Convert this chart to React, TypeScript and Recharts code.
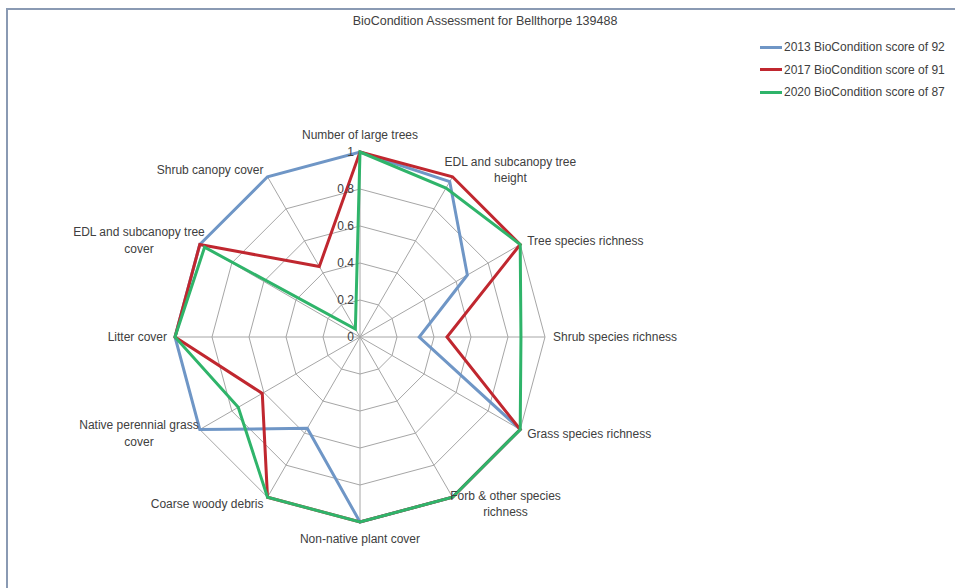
import { RadarChart, Radar, PolarGrid, PolarAngleAxis, PolarRadiusAxis, Legend } from "recharts"

const categories = [
  "Number of large trees",
  "EDL and subcanopy tree height",
  "Tree species richness",
  "Shrub species richness",
  "Grass species richness",
  "Forb & other species richness",
  "Non-native plant cover",
  "Coarse woody debris",
  "Native perennial grass cover",
  "Litter cover",
  "EDL and subcanopy tree cover",
  "Shrub canopy cover",
]

const scores2013 = [1, 0.97, 0.67, 0.32, 1, 1, 1, 0.57, 1, 1, 1, 1]
const scores2017 = [1, 1, 1, 0.47, 1, 1, 1, 1, 0.61, 1, 1, 0.44]
const scores2020 = [1, 0.93, 1, 0.87, 1, 1, 1, 1, 0.76, 1, 0.97, 0.05]

const radiusTicks = [0, 0.2, 0.4, 0.6, 0.8, 1]

const seriesNames = ["2013 BioCondition score of 92", "2017 BioCondition score of 91", "2020 BioCondition score of 87"]
const seriesColors = ["#6f96c6", "#c0272f", "#2fb46a"]

const data = categories.map((c, i) => ({
  category: c,
  s2013: scores2013[i],
  s2017: scores2017[i],
  s2020: scores2020[i],
}))

const CX = 360
const CY = 337
const R = 185
const FONT = "'Liberation Sans', Arial, sans-serif"

// 22 chars per line is about what the excel label boxes hold
function wrapLabel(text: string, max = 22) {
  const words = text.split(" ")
  const lines: string[] = []
  let cur = ""
  for (const w of words) {
    const next = cur ? cur + " " + w : w
    if (next.length > max && cur) {
      lines.push(cur)
      cur = w
    } else {
      cur = next
    }
  }
  if (cur) lines.push(cur)
  return lines
}

const AngleTick = (props: any) => {
  const { x, y, payload } = props
  const dx = x - CX
  const dy = y - CY
  const len = Math.hypot(dx, dy) || 1
  const ux = dx / len
  const uy = dy / len
  const ax = CX + ux * (R + 8)
  let ay = CY + uy * (R + 8)
  const lines = wrapLabel(payload.value)
  const lineH = 16.5
  const vertical = Math.abs(ux) < 0.01
  if (vertical) ay += uy * 9
  const blockTop = ay - ((lines.length - 1) * lineH) / 2
  let anchor: "start" | "end" | "middle" = vertical ? "middle" : ux > 0 ? "start" : "end"
  let tx = ax
  if (lines.length > 1 && !vertical) {
    const w = Math.max(...lines.map((l) => l.length)) * 4.9
    tx = ux > 0 ? ax + w / 2 : ax - w / 2
    anchor = "middle"
  }
  return (
    <text x={tx} y={blockTop} textAnchor={anchor} fill="#404040" fontSize={12} fontFamily={FONT} dominantBaseline="central">
      {lines.map((l, i) => (
        <tspan key={i} x={tx} dy={i === 0 ? 0 : lineH}>
          {l}
        </tspan>
      ))}
    </text>
  )
}

const RadiusTick = (props: any) => {
  const { x, y, payload } = props
  return (
    <text x={x - 6} y={y} textAnchor="end" dominantBaseline="central" fill="#404040" fontSize={12} fontFamily={FONT}>
      {payload.value}
    </text>
  )
}

const LegendContent = () => (
  <div style={{ fontFamily: FONT, fontSize: 12, color: "#404040" }}>
    {seriesNames.map((n, i) => (
      <div key={n} style={{ display: "flex", alignItems: "center", height: 22.5 }}>
        <div style={{ width: 22, height: 3, background: seriesColors[i], marginRight: 2 }} />
        <span style={{ whiteSpace: "nowrap" }}>{n}</span>
      </div>
    ))}
  </div>
)

export default function App() {
  return (
    <div style={{ position: "absolute", left: 0, top: 0, width: 955, height: 588, overflow: "hidden", background: "#fff" }}>
      <div
        style={{
          position: "absolute",
          left: 6,
          top: 8,
          width: 980,
          height: 620,
          borderLeft: "2px solid #8a9ab3",
          borderTop: "2px solid #8a9ab3",
        }}
      />
      <div
        style={{
          position: "absolute",
          left: 285,
          width: 400,
          top: 14,
          textAlign: "center",
          fontFamily: FONT,
          fontSize: 12.5,
          color: "#404040",
        }}
      >
        BioCondition Assessment for Bellthorpe 139488
      </div>
      <div style={{ position: "absolute", left: 0, top: 0 }}>
        <RadarChart width={955} height={588} data={data} cx={CX} cy={CY} outerRadius={R} margin={{ top: 0, right: 0, bottom: 0, left: 0 }}>
          <PolarGrid gridType="polygon" stroke="#a6a6a6" strokeWidth={1} />
          <PolarAngleAxis dataKey="category" tick={<AngleTick />} tickLine={false} axisLine={false} />
          <PolarRadiusAxis angle={90} domain={[0, 1]} ticks={radiusTicks as any} tick={<RadiusTick />} axisLine={false} />
          <Radar name={seriesNames[0]} dataKey="s2013" stroke={seriesColors[0]} strokeWidth={3} fill="none" fillOpacity={0} dot={false} isAnimationActive={false} />
          <Radar name={seriesNames[1]} dataKey="s2017" stroke={seriesColors[1]} strokeWidth={3} fill="none" fillOpacity={0} dot={false} isAnimationActive={false} />
          <Radar name={seriesNames[2]} dataKey="s2020" stroke={seriesColors[2]} strokeWidth={3} fill="none" fillOpacity={0} dot={false} isAnimationActive={false} />
          <Legend content={<LegendContent />} wrapperStyle={{ position: "absolute", left: 760, top: 36, width: 195 }} />
        </RadarChart>
      </div>
    </div>
  )
}
